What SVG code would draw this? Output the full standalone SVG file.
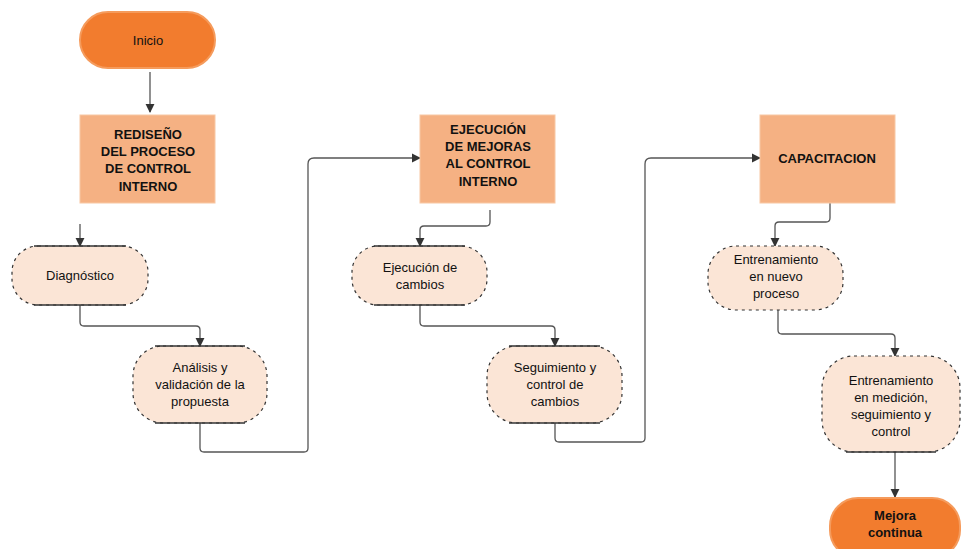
<svg xmlns="http://www.w3.org/2000/svg" width="963" height="549" viewBox="0 0 963 549">
<style>
.pill{fill:#f27c2e;stroke:#f59b5c;stroke-width:2}
.box{fill:#f5b183;stroke:#f8c8a4;stroke-width:1}
.step{fill:#fbe5d6;stroke:#333;stroke-width:1.2;stroke-dasharray:3 4}
.bar{stroke:#333;stroke-width:1.5}
.conn{fill:none;stroke:#555;stroke-width:1.3}
.hd{font-family:"Liberation Sans",Arial,sans-serif;font-size:13px;font-weight:bold;fill:#111;text-anchor:middle}
.tx{font-family:"Liberation Sans",Arial,sans-serif;font-size:13px;fill:#111;text-anchor:middle}
</style>
<defs>
<marker id="ar" viewBox="0 0 10 10" refX="9" refY="5" markerWidth="7" markerHeight="7" orient="auto-start-reverse">
<path d="M0,0 L10,5 L0,10 z" fill="#333"/>
</marker>
</defs>
<rect width="963" height="549" fill="#fff"/>
<g id="connectors">
<path class="conn" d="M150,72 V112" marker-end="url(#ar)"/>
<path class="conn" d="M80,224 V246" marker-end="url(#ar)"/>
<path class="conn" d="M80,305 V322 Q80,326 84,326 H196 Q200,326 200,330 V346" marker-end="url(#ar)"/>
<path class="conn" d="M200,423 V448 Q200,452 204,452 H304 Q308,452 308,448 V164 Q308,158 314,158 H420" marker-end="url(#ar)"/>
<path class="conn" d="M490,210 V222 Q490,226 486,226 H424 Q420,226 420,230 V246" marker-end="url(#ar)"/>
<path class="conn" d="M420,305 V322 Q420,326 424,326 H551 Q555,326 555,330 V346" marker-end="url(#ar)"/>
<path class="conn" d="M555,423 V438 Q555,442 559,442 H641 Q645,442 645,438 V164 Q645,158 651,158 H760" marker-end="url(#ar)"/>
<path class="conn" d="M830,203 V218 Q830,222 826,222 H779 Q775,222 775,226 V246" marker-end="url(#ar)"/>
<path class="conn" d="M778,310 V330 Q778,334 782,334 H891 Q895,334 895,338 V356" marker-end="url(#ar)"/>
<path class="conn" d="M895,452 V497" marker-end="url(#ar)"/>
</g>
<g id="inicio">
<rect class="pill" x="80" y="12" width="135" height="56" rx="28"/>
<text class="tx" x="148" y="45">Inicio</text>
</g>
<g id="rediseno">
<rect class="box" x="80" y="115" width="135" height="88"/>
<text class="hd" x="148" y="139">REDISEÑO</text>
<text class="hd" x="148" y="156">DEL PROCESO</text>
<text class="hd" x="148" y="173">DE CONTROL</text>
<text class="hd" x="148" y="191">INTERNO</text>
</g>
<g id="diagnostico">
<rect class="step" x="12" y="246" width="136" height="59" rx="26"/>
<line class="bar" x1="34" y1="246" x2="126" y2="246"/>
<line class="bar" x1="34" y1="305" x2="126" y2="305"/>
<text class="tx" x="80" y="280">Diagnóstico</text>
</g>
<g id="analisis">
<rect class="step" x="133" y="346" width="134" height="77" rx="30"/>
<line class="bar" x1="155" y1="346" x2="245" y2="346"/>
<line class="bar" x1="155" y1="423" x2="245" y2="423"/>
<text class="tx" x="200" y="372">Análisis y</text>
<text class="tx" x="200" y="389">validación de la</text>
<text class="tx" x="200" y="406">propuesta</text>
</g>
<g id="ejecucion">
<rect class="box" x="420" y="115" width="135" height="88"/>
<text class="hd" x="488" y="134">EJECUCIÓN</text>
<text class="hd" x="488" y="151">DE MEJORAS</text>
<text class="hd" x="488" y="168">AL CONTROL</text>
<text class="hd" x="488" y="186">INTERNO</text>
</g>
<g id="ejecucion-cambios">
<rect class="step" x="352" y="246" width="135" height="59" rx="26"/>
<line class="bar" x1="374" y1="246" x2="465" y2="246"/>
<line class="bar" x1="374" y1="305" x2="465" y2="305"/>
<text class="tx" x="420" y="272">Ejecución de</text>
<text class="tx" x="420" y="289">cambios</text>
</g>
<g id="seguimiento">
<rect class="step" x="487" y="346" width="135" height="77" rx="30"/>
<line class="bar" x1="509" y1="346" x2="600" y2="346"/>
<line class="bar" x1="509" y1="423" x2="600" y2="423"/>
<text class="tx" x="555" y="372">Seguimiento y</text>
<text class="tx" x="555" y="389">control de</text>
<text class="tx" x="555" y="406">cambios</text>
</g>
<g id="capacitacion">
<rect class="box" x="760" y="115" width="135" height="88"/>
<text class="hd" x="827" y="163">CAPACITACION</text>
</g>
<g id="entrenamiento-proceso">
<rect class="step" x="708" y="246" width="135" height="64" rx="28"/>
<text class="tx" x="776" y="264">Entrenamiento</text>
<text class="tx" x="776" y="281">en nuevo</text>
<text class="tx" x="776" y="298">proceso</text>
</g>
<g id="entrenamiento-medicion">
<rect class="step" x="822" y="356" width="138" height="96" rx="32"/>
<line class="bar" x1="846" y1="452" x2="936" y2="452"/>
<text class="tx" x="891" y="385">Entrenamiento</text>
<text class="tx" x="891" y="402">en medición,</text>
<text class="tx" x="891" y="419">seguimiento y</text>
<text class="tx" x="891" y="436">control</text>
</g>
<g id="mejora">
<rect class="pill" x="830" y="498" width="130" height="60" rx="28"/>
<text class="hd" x="895" y="520">Mejora</text>
<text class="hd" x="895" y="537">continua</text>
</g>
</svg>
